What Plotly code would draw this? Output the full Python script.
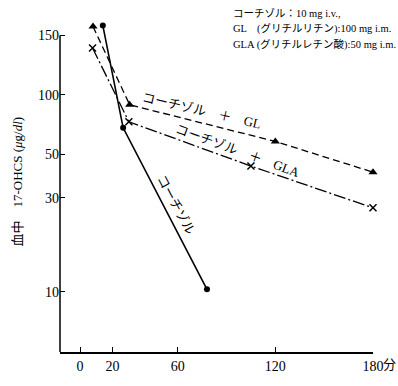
import math
import plotly.graph_objects as go

# Plasma 17-OHCS after injection (minutes, µg/dl)
cortisol_t = [14, 26.5, 78]
cortisol_v = [225, 68, 10.3]

gl_t = [8, 30.5, 120, 180]
gl_v = [222, 89, 58, 40.5]

gla_t = [7.7, 30, 105, 180]
gla_v = [173, 73, 43.5, 26.7]

x_ticks = [0, 20, 60, 120, 180]
x_ticktext = ["0", "20", "60", "120", "180"]
y_ticks = [10, 30, 50, 100, 200]
y_ticktext = ["10", "30", "50", "100", "150"]

SERIF = "Liberation Serif, Noto Sans CJK JP, serif"
JP = "Liberation Serif, Noto Sans CJK JP"

W, H = 398, 386
L, R, T, B = 60, 373, 16, 357
Y_LOG_RANGE = [0.695, 2.40]


def pp(xp, yp):
    """pixel position -> paper coordinates"""
    return (xp - L) / (R - L), (B - yp) / (B - T)


fig = go.Figure()
fig.add_trace(go.Scatter(
    x=cortisol_t, y=cortisol_v, mode="lines+markers", cliponaxis=False,
    line=dict(color="black", width=1.6),
    marker=dict(symbol="circle", size=6, color="black"),
))
fig.add_trace(go.Scatter(
    x=gl_t, y=gl_v, mode="lines+markers", cliponaxis=False,
    line=dict(color="black", width=1.3, dash="7px,4px"),
    marker=dict(symbol="triangle-up", size=8, color="black"),
))
fig.add_trace(go.Scatter(
    x=gla_t, y=gla_v, mode="lines+markers", cliponaxis=False,
    line=dict(color="black", width=1.3, dash="12px,3px,2px,3px"),
    marker=dict(symbol="x-thin", size=7, color="black",
                line=dict(color="black", width=1.5)),
))

annotations = []


def label(text, xp, yp, size=13, angle=0, xanchor="center", yanchor="middle"):
    x, y = pp(xp, yp)
    annotations.append(dict(
        text=text, x=x, y=y, xref="paper", yref="paper", showarrow=False,
        textangle=angle, xanchor=xanchor, yanchor=yanchor,
        font=dict(family=JP, size=size, color="black"),
    ))


# dose legend block
label("コーチゾル：10 mg i.v.,", 231, 13, size=10.5, xanchor="left")
label("GL　(グリチルリチン):100 mg i.m.", 231, 29, size=10.5, xanchor="left")
label("GLA (グリチルレチン酸):50 mg i.m.", 231, 45, size=10.5, xanchor="left")

# curve labels
label("コーチゾル　＋　GL", 201, 112, size=13, angle=13)
label("コーチゾル　＋　GLA", 237, 153, size=13, angle=20)
label("コーチゾル", 176, 207, size=13, angle=62)

# axis title and unit
label("血中　17-OHCS (<i>μ</i>g/<i>dl</i>)", 18, 184, size=13, angle=-90)
label("分", 389, 370, size=13)

# y axis line stops at the top tick
top_frac = (math.log10(y_ticks[-1]) - Y_LOG_RANGE[0]) / (Y_LOG_RANGE[1] - Y_LOG_RANGE[0])
shapes = [dict(
    type="line", xref="paper", x0=0, x1=0, yref="paper",
    y0=0, y1=top_frac,
    line=dict(color="black", width=1.5),
)]

fig.update_layout(
    width=W, height=H,
    margin=dict(l=L, r=W - R, t=T, b=H - B),
    paper_bgcolor="white", plot_bgcolor="white",
    showlegend=False,
    annotations=annotations,
    shapes=shapes,
    xaxis=dict(
        range=[-12.3, 180], tickvals=x_ticks, ticktext=x_ticktext,
        ticks="inside", ticklen=5, tickcolor="black", tickwidth=1.2,
        showline=True, linecolor="black", linewidth=1.5,
        showgrid=False, zeroline=False,
        tickfont=dict(family=SERIF, size=14, color="black"),
    ),
    yaxis=dict(
        type="log", range=Y_LOG_RANGE,
        tickvals=y_ticks, ticktext=y_ticktext,
        ticks="inside", ticklen=5, tickcolor="black", tickwidth=1.2,
        showline=False,
        showgrid=False, zeroline=False,
        tickfont=dict(family=SERIF, size=14, color="black"),
    ),
)

fig.write_html("out.html")
